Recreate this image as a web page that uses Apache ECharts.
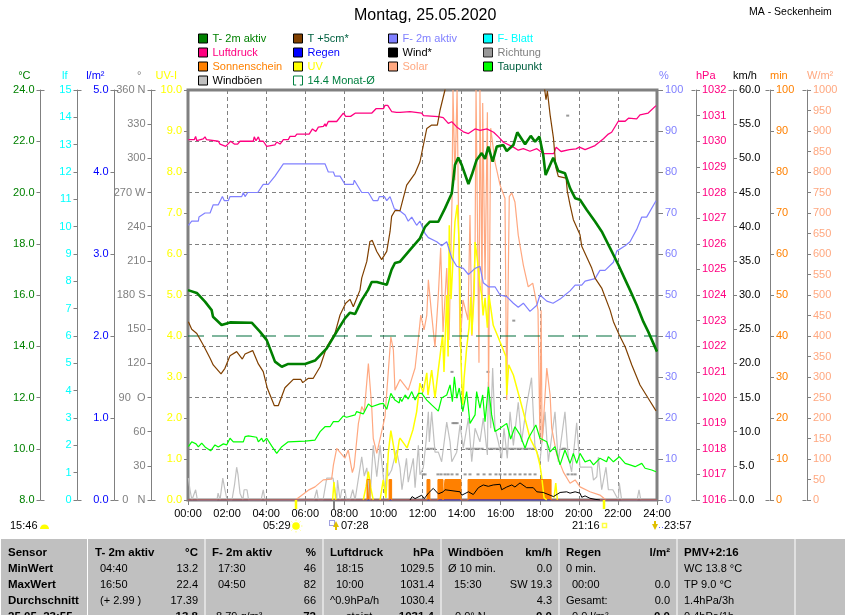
<!DOCTYPE html>
<html><head><meta charset="utf-8">
<style>html,body{margin:0;padding:0;background:#fff;overflow:hidden}#c{width:845px;height:615px}</style>
<script src="https://cdn.jsdelivr.net/npm/echarts@6/dist/echarts.min.js"></script>
</head><body><div id="c"></div>
<script>
const dirTicks = {360:'360 N',330:'330',300:'300',270:'270 W',240:'240',210:'210',180:'180 S',150:'150',120:'120',90:'90  O',60:'60',30:'30',0:'0   N'};

const t2mHours = [0,0.45,0.87,1.21,1.28,1.72,2.15,3.26,3.68,4.03,4.45,4.80,5.13,5.99,6.50,7.10,7.61,8.03,8.29,8.55,8.89,9.21,9.40,9.66,10.17,10.42,10.59,10.85,11.36,11.87,12.13,12.38,12.81,13.15,13.50,13.66,13.83,14.01,14.35,14.52,14.77,15.03,15.20,15.37,15.59,15.80,16.14,16.31,16.65,16.85,17.25,17.54,17.76,17.98,18.18,18.30,18.69,18.95,19.29,19.55,19.81,20.06,20.40,20.83,21.17,21.60,22.02,22.37,22.62,22.96,23.30,23.55,24];
const t2mValues = [16.19,16.08,15.74,15.41,15.15,14.83,14.93,14.92,14.57,14.24,13.40,13.20,13.31,13.31,13.44,13.92,14.57,15.09,15.31,15.26,15.80,16.19,16.51,16.51,16.40,16.99,17.25,17.30,17.76,18.21,18.66,18.86,18.86,19.38,19.97,21.07,21.36,21.07,20.33,20.68,21.27,21.54,21.31,21.79,21.20,21.79,21.85,21.62,21.85,22.35,21.88,22.21,21.98,22.18,21.46,20.68,21.36,20.84,20.75,20.17,19.78,19.72,19.33,18.87,18.48,17.83,17.18,16.60,16.19,15.61,14.96,14.57,13.79];

const t5Hours = [0.02,0.19,0.45,0.78,1.13,1.29,1.69,1.89,2.15,2.49,2.78,2.92,3.31,3.60,3.85,4.06,4.42,4.62,4.96,5.39,5.77,5.87,6.16,6.41,6.76,7.10,7.52,7.78,8.07,8.29,8.46,8.80,8.89,9.15,9.31,9.43,9.66,9.91,10.17,10.34,10.42,10.59,10.85,11.19,11.62,11.87,12.22,12.47,12.76,12.90,13.15,13.25,14,16,18,18.22,18.32,18.39,18.53,18.70,18.83,18.95,19.35,19.41,19.55,19.72,20.06,20.15,20.66,20.83,21.17,21.60,21.77,22.07,22.37,22.71,23.13,23.55,23.95];
const t5Values = [14.96,14.66,14.50,14.05,13.53,13.27,12.92,13.14,13.63,13.79,13.50,13.70,13.83,13.31,13.01,12.36,11.68,11.68,12.38,12.71,12.71,12.58,12.75,12.75,13.20,13.98,14.50,15.22,15.68,15.83,15.54,16.19,16.66,17.31,18.09,18.13,17.70,17.38,17.70,18.48,19.07,19.29,19.29,20.29,20.75,21.20,22.50,22.63,22.63,23.22,24.0,24.4,26,27,26,24.2,23.62,23.96,23.03,22.13,20.96,20.63,20.56,20.05,19.52,18.94,18.35,17.90,17.05,16.66,16.27,15.41,14.96,14.44,13.98,13.27,12.49,11.97,11.48];

const humHours = [0.02,0.19,0.53,0.56,0.87,1.13,1.29,1.55,1.76,1.86,2.06,2.15,2.75,2.83,2.92,3.06,3.57,3.85,4.11,4.45,4.88,7.01,7.18,7.44,7.52,7.78,8.03,8.46,8.51,8.89,9.23,9.48,9.71,9.79,10.05,10.17,10.34,10.56,10.85,11.11,11.27,11.45,11.70,11.87,12.13,12.30,12.73,12.98,13.24,13.50,13.75,14.09,14.35,14.69,14.94,15.11,15.37,15.71,15.97,16.31,16.65,16.90,17.16,17.50,17.85,18.01,18.36,18.68,19.04,19.29,19.55,19.81,20.15,20.32,20.83,21.08,21.34,21.77,21.94,22.37,22.62,22.96,23.22,23.47,23.95];
const humValues = [67,68,68,69,70,70,72,72,74,73,73,74,74,75,74,75,75,77,77,79,82,82,80,80,79,79,77,77,78,75,75,73,73,74,74,73,74,71,70.5,69.5,68,69,67,68,65,64,63,62,63,59,57,56.5,55,56.5,57,53,52,52,50,49.6,48,47,48,46,47.5,50,48.5,48,49,50,51,52.4,52.4,53.4,54,56,56,58,60.7,62,63,66,69,69,73];

const pressHours = [0.02,0.32,0.39,0.45,0.78,0.87,0.95,1.55,1.64,1.93,2.18,2.37,2.54,2.66,3.34,3.39,3.48,3.60,3.68,3.85,4.03,4.11,4.45,4.54,4.71,4.88,5.13,5.22,5.48,5.57,6.20,6.37,6.54,6.67,6.93,7.01,7.06,7.18,7.61,7.70,7.95,8.07,8.32,8.57,8.99,9.07,9.41,9.62,10.0,10.08,10.22,10.42,10.67,10.85,11.36,11.96,12.05,12.81,13.06,13.32,13.50,13.75,14.09,14.35,14.69,14.95,15.29,15.64,15.90,16.14,16.65,16.90,17.16,17.50,17.85,18.18,18.72,18.84,19.09,19.52,19.86,20.03,20.32,20.83,21.26,21.51,21.68,22.02,22.37,22.54,22.96,23.13,23.55,23.95];
const pressValues = [1030.06,1030.06,1030.19,1030.02,1030.09,1030.17,1030.06,1030.0,1029.89,1029.80,1030.0,1029.89,1029.89,1030.0,1030.0,1030.17,1030.02,1030.17,1030.0,1030.0,1029.80,1029.86,1029.86,1029.97,1029.89,1030.06,1030.06,1030.19,1030.19,1030.28,1030.28,1030.48,1030.38,1030.55,1030.58,1030.68,1030.58,1030.77,1030.77,1030.73,1031.10,1030.97,1030.97,1031.10,1031.10,1031.16,1031.10,1031.27,1031.27,1031.40,1031.40,1031.16,1031.13,1031.13,1031.16,1031.10,1031.0,1030.96,1030.92,1030.70,1030.76,1030.56,1030.37,1030.30,1030.48,1030.42,1030.48,1030.35,1030.16,1029.96,1029.77,1029.65,1029.71,1029.61,1029.71,1029.52,1029.52,1029.77,1029.6,1029.67,1029.7,1029.77,1029.67,1029.83,1030.1,1030.28,1030.35,1030.78,1030.78,1030.9,1030.87,1031.03,1031.1,1031.39];

const dewHours = [0.02,0.19,0.41,0.53,0.70,0.87,1.16,1.38,1.55,1.81,1.98,2.15,2.32,2.83,2.92,3.09,3.51,3.60,3.77,3.85,4.03,4.28,4.54,4.80,5.13,5.99,6.50,6.76,7.01,7.27,7.44,7.70,7.95,8.12,8.55,8.63,8.97,9.23,9.40,9.82,9.99,10.17,10.38,10.59,10.81,10.85,10.94,11.11,11.27,11.45,11.62,11.79,11.96,12.22,12.47,12.81,12.98,13.24,13.41,13.53,13.63,13.75,13.88,14.06,14.26,14.43,14.69,14.77,14.94,15.08,15.20,15.37,15.54,15.71,15.97,16.31,16.51,16.73,16.99,17.25,17.42,17.80,18.01,18.36,18.53,18.78,19.04,19.29,19.55,19.72,19.89,20.06,20.32,20.57,20.75,21.08,21.42,21.51,21.77,22.07,22.37,22.62,22.88,23.22,23.39,23.73,23.95];
const dewValues = [10.08,10.27,10.19,10.07,10.22,10.07,9.92,10.15,10.07,10.19,10.15,10.41,10.27,10.27,10.47,10.50,10.45,10.27,10.41,10.27,10.41,10.11,9.82,10.08,10.27,10.30,10.34,10.67,10.86,10.86,11.06,11.06,11.28,11.23,11.32,11.45,11.36,11.75,11.64,11.75,11.77,11.54,12.16,11.90,11.79,11.98,11.84,12.10,11.94,12.23,11.90,12.16,12.16,11.90,11.71,11.47,11.98,12.10,12.49,11.84,12.81,11.97,12.37,11.45,12.23,10.99,11.32,12.23,11.59,12.10,11.06,12.42,11.32,10.67,10.80,10.99,10.38,10.86,10.54,10.02,10.41,10.93,10.41,10.27,9.88,10.08,9.37,9.95,9.43,9.82,9.43,9.82,9.49,9.56,9.37,9.63,9.49,9.69,9.49,9.69,9.43,9.37,9.30,9.43,9.24,9.17,9.10];

const solarHours = [5.50,5.56,6.16,6.50,6.92,7.35,7.44,7.61,8.03,8.20,8.41,8.50,8.72,8.89,9.02,9.23,9.40,9.48,9.66,9.91,10.08,10.38,10.51,10.59,10.85,11.27,11.62,11.79,11.91,12.08,12.22,12.30,12.47,12.64,12.81,12.93,13.05,13.24,13.36,13.51,13.56,13.66,13.77,13.92,14.07,14.33,14.43,14.53,14.69,14.74,14.89,14.94,15.05,15.08,15.20,15.32,15.38,15.49,15.71,15.97,16.22,16.31,16.44,16.57,16.73,16.90,17.16,17.41,17.64,17.91,18.01,18.07,18.12,18.36,18.53,18.61,18.87,19.21,19.55,19.81,20.06,20.57,21.08,21.34,21.40];
const solarValues = [0,2,24,32,49,51,85,126,102,122,67,81,187,228,215,333,228,150,114,167,203,398,366,268,294,268,322,395,451,415,451,537,451,373,500,615,410,566,390,732,1000,780,1000,373,488,439,695,400,610,1000,335,1000,488,968,537,946,256,907,824,768,736,244,740,749,727,646,573,520,529,464,146,463,141,322,256,176,110,68,41,49,32,20,12,2,0];

const uvHours = [7.40,7.47,7.56,7.57,8.96,8.97,9.11,9.23,9.35,9.48,9.49,9.82,9.83,9.99,10.13,10.25,10.38,10.51,10.64,10.81,10.85,11.21,11.51,11.70,11.87,12.03,12.22,12.28,12.47,12.64,12.79,13.03,13.10,13.24,13.31,13.37,13.46,13.66,13.78,13.88,13.92,13.97,14.06,14.13,14.26,14.38,14.47,14.52,14.64,14.69,14.80,14.94,15.03,15.10,15.20,15.32,15.40,15.62,16.05,16.27,16.31,16.41,16.65,17.16,17.50,17.85,18.01,18.10,18.22,18.36,18.37,18.72,18.73,18.82,18.90];
const uvValues = [0,0.44,0,null,null,0,0.32,0.69,0.3,0,null,null,0,0.49,0.05,1.15,1.69,1.34,0.90,1.46,1.51,1.27,1.71,2.15,2.85,2.63,3.10,2.56,3.17,2.49,3.10,4.03,3.12,5.0,3.5,6.70,4.9,6.78,7.20,6.22,5.0,3.37,2.32,2.98,3.71,4.20,4.95,4.03,5.0,6.29,5.90,5.24,5.0,4.5,4.93,4.2,5.0,4.26,3.76,3.5,2.56,3.30,3.05,2.15,1.51,1.17,0.85,0.56,0.05,0,null,null,0.05,0.41,0];

const gustHours = [0.02,0.10,0.2,0.39,0.48,1.48,1.54,1.64,1.78,1.89,2.0,2.25,2.38,2.49,2.56,2.66,2.81,2.87,3.02,3.10,3.74,3.85,3.94,6.45,6.59,6.67,6.91,7.10,7.42,7.61,7.65,7.78,7.87,8.03,8.11,8.29,8.43,8.55,8.89,8.97,9.02,9.15,9.31,9.48,9.57,9.66,9.83,10.08,10.17,10.25,10.42,10.67,10.85,10.95,11.18,11.27,11.53,11.62,11.79,11.87,12.04,12.18,12.30,12.35,12.47,12.64,12.81,12.98,13.24,13.41,13.50,13.75,13.92,14.09,14.35,14.52,14.69,14.94,15.11,15.32,15.37,15.49,15.59,15.71,15.88,16.05,16.17,16.34,16.48,16.65,16.90,17.07,17.33,17.58,17.75,18.01,18.27,18.44,18.78,18.95,19.29,19.46,19.63,19.89,20.06,20.32,20.66,20.75,20.92,21.0,21.17,21.39,21.51,21.74,22.02,22.07,22.19,22.98,23.08,23.17,24];
const gustValues = [3.2,1.5,0,1.5,0,0,1,0,3.2,1.5,0,0,2.2,4.8,3.7,1,0,1.5,1.5,0,0,1.5,0,0,1.5,0,0,3.2,3.2,0,2.9,0,1.5,1.5,0,0,1.5,0,6.3,6.3,3.5,4.7,0,8,8,3.4,8,1,5.4,3.5,4.4,7.3,4.7,1.5,6.1,2.6,6.1,1.8,8,3.7,4.7,8.5,12.9,8.5,12.9,7,7,5.6,11.4,8.5,5.6,7,11,7.6,12,5.6,10.5,8.5,12,6.6,17.3,10.5,19.3,10.5,8.5,6.1,10.5,6.1,12.9,8,14.3,8.5,13.9,17.9,8,5.6,12.9,5.6,12.9,5.6,12.9,6.3,4.1,11.3,4.8,4.8,4.8,2.9,3.4,6.3,1.5,4.8,1.5,1.5,0,2.5,0,0,1.5,0,0];

const windHours = [11.36,11.47,11.62,11.96,12.09,12.30,12.55,12.81,13.06,13.15,13.92,14.01,14.35,14.60,14.86,15.11,15.37,15.62,15.97,16.05,16.31,16.57,16.73,16.99,17.33,17.67,17.85,18.18,18.53,18.70,19.04,19.38,19.55,19.81,20.06,20.15,20.32,20.57,20.83,21.08];
const windValues = [0,0.5,0.2,0.7,0.2,1,1.7,0.9,1.2,1.5,1.2,0.7,1.2,0.8,1.8,2.2,2.0,2.2,2.3,1.5,1.9,2.2,1.9,2.5,1.8,1.8,1.2,1.1,0.7,0.5,1.1,1.2,1.0,1.2,1.0,0.4,0.6,0.25,0.1,0];

const dirHours = [12.03,12.13,12.79,12.95,13.15,13.31,13.51,13.77,14.18,14.43,14.84,15.15,15.46,15.76,15.97,16.22,16.48,16.73,16.99,17.25,17.50,17.76,19.45,19.65,19.81,
  12.28,12.44,12.59,14.28,14.43,14.59,14.74,14.89,15.05,15.35,15.51,15.66,15.81,15.97,16.12,16.27,16.43,16.58,16.73,16.89,17.04,17.2,17.35,17.5,17.66,19.19,19.29,
  13.56,13.66,13.77,13.51,15.35,16.67,19.43];
const dirValues = [22.5,22.5,22.5,22.5,22.5,22.5,22.5,22.5,22.5,22.5,22.5,22.5,22.5,22.5,22.5,22.5,22.5,22.5,22.5,22.5,22.5,22.5,22.5,22.5,22.5,
  45,45,45,45,45,45,45,45,45,45,45,45,45,45,45,45,45,45,45,45,45,45,45,45,45,45,45,
  67.5,67.5,67.5,112.5,112.5,157.5,337.5];

const sunHours = [0,9.16,9.16,9.31,9.31,10.29,10.29,10.42,10.42,12.23,12.23,12.38,12.38,12.79,12.79,13.05,13.05,13.15,13.15,13.97,13.97,14.33,14.33,18.58,18.58,24];
const sunMinutes = [0,0,5,5,0,0,5,5,0,0,5,5,0,0,5,5,0,0,5,5,0,0,5,5,0,0];

const rainHours = [0,24];
const rainValues = [0,0];
const monthHours = [0,24];
const monthValues = [14.4,14.4];

const tableRows = [
 [8,0,'Sensor',1],[8,1,'MinWert',1],[8,2,'MaxWert',1],[8,3,'Durchschnitt',1],[8,4,'25.05. 23:55',1],
 [95,0,'T- 2m aktiv',1],[198,0,'°C',1,'right'],[100,1,'04:40'],[198,1,'13.2',0,'right'],[100,2,'16:50'],[198,2,'22.4',0,'right'],[100,3,'(+ 2.99 )'],[198,3,'17.39',0,'right'],[198,4,'13.8',1,'right'],
 [212,0,'F- 2m aktiv',1],[316,0,'%',1,'right'],[218,1,'17:30'],[316,1,'46',0,'right'],[218,2,'04:50'],[316,2,'82',0,'right'],[316,3,'66',0,'right'],[216,4,'8.79 g/m³'],[316,4,'72',1,'right'],
 [330,0,'Luftdruck',1],[434,0,'hPa',1,'right'],[336,1,'18:15'],[434,1,'1029.5',0,'right'],[336,2,'10:00'],[434,2,'1031.4',0,'right'],[330,3,'^0.9hPa/h'],[434,3,'1030.4',0,'right'],[346,4,'steigt'],[434,4,'1031.4',1,'right'],
 [448,0,'Windböen',1],[552,0,'km/h',1,'right'],[448,1,'Ø 10 min.'],[552,1,'0.0',0,'right'],[454,2,'15:30'],[552,2,'SW 19.3',0,'right'],[552,3,'4.3',0,'right'],[455,4,'0.0° N'],[552,4,'0.0',1,'right'],
 [566,0,'Regen',1],[670,0,'l/m²',1,'right'],[566,1,'0 min.'],[572,2,'00:00'],[670,2,'0.0',0,'right'],[566,3,'Gesamt:'],[670,3,'0.0',0,'right'],[572,4,'0.0 l/m²'],[670,4,'0.0',1,'right'],
 [684,0,'PMV+2:16',1],[684,1,'WC 13.8 °C'],[684,2,'TP 9.0 °C'],[684,3,'1.4hPa/3h'],[684,4,'0.4hPa/1h']
];
const FONT='"Liberation Sans",Arial,sans-serif';
const zip=(a,b)=>a.map((v,i)=>[v,b[i]]);
const GRAY='#808080';

function yAx(opt){
  const left=opt.position==='left';
  return {
    type:'value',position:opt.position,offset:opt.offset,min:opt.min,max:opt.max,interval:opt.interval,
    name:opt.name,nameLocation:'end',nameGap:9,
    nameTextStyle:{color:opt.color,fontFamily:FONT,fontSize:11,align:left?'right':'left',padding:left?[0,opt.pad,0,0]:[0,0,0,opt.pad]},
    axisLine:{show:true,onZero:false,lineStyle:{color:GRAY,width:1}},
    axisTick:{show:true,length:opt.tick||4,lineStyle:{color:GRAY,width:1}},
    axisLabel:{show:true,color:opt.color,fontFamily:FONT,fontSize:11,margin:opt.margin||6,showMinLabel:true,showMaxLabel:true,hideOverlap:false,formatter:opt.fmt},
    splitLine:opt.split?{show:true,lineStyle:{color:GRAY,type:[4,3],width:1}}:{show:false}
  };
}
const yAxes=[
 yAx({position:'left',offset:147.5,min:8,max:24,interval:2,name:'°C',pad:10,color:'#008000',fmt:v=>v.toFixed(1),split:true}),
 yAx({position:'left',offset:110.5,min:0,max:15,interval:1,name:'lf',pad:10,color:'#00ffff',fmt:v=>String(v)}),
 yAx({position:'left',offset:73.5,min:0,max:5,interval:1,name:'l/m²',pad:10,color:'#0000ff',fmt:v=>v.toFixed(1)}),
 yAx({position:'left',offset:36.5,min:0,max:360,interval:30,name:'°',pad:10,color:GRAY,fmt:v=>dirTicks[v]}),
 yAx({position:'left',offset:0,min:0,max:10,interval:1,name:'UV-I',pad:11,color:'#ffff00',fmt:v=>v.toFixed(1)}),
 yAx({position:'right',offset:0,min:0,max:100,interval:10,name:'%',pad:2,color:'#8080ff',tick:6,margin:8,fmt:v=>String(v)}),
 yAx({position:'right',offset:39,min:1016,max:1032,interval:1,name:'hPa',pad:0,color:'#ff0080',fmt:v=>String(v)}),
 yAx({position:'right',offset:76,min:0,max:60,interval:5,name:'km/h',pad:0,color:'#000000',fmt:v=>v.toFixed(1)}),
 yAx({position:'right',offset:113,min:0,max:100,interval:10,name:'min',pad:0,color:'#ff8000',fmt:v=>String(v)}),
 yAx({position:'right',offset:150,min:0,max:1000,interval:50,name:'W/m²',pad:0,color:'#ffa880',fmt:v=>String(v)})
];
function ln(name,ax,color,width,x,y,extra){
  return Object.assign({name,type:'line',yAxisIndex:ax,data:zip(x,y),showSymbol:false,symbol:'none',silent:true,clip:true,
    lineStyle:{color,width},itemStyle:{color}},extra||{});
}
const series=[
 ln('Windböen',7,'#c0c0c0',1.2,gustHours,gustValues),
 ln('Solar',9,'#ffa880',1.2,solarHours,solarValues),
 ln('Regen',2,'#0000ff',1,rainHours,rainValues),
 ln('F- Blatt',1,'#00ffff',1,[],[]),
 ln('UV',4,'#ffff00',1.5,uvHours,uvValues),
 ln('Sonnenschein',8,'#ff8000',1,sunHours,sunMinutes,{areaStyle:{color:'#ff8000',opacity:1}}),
 {name:'Richtung',type:'scatter',yAxisIndex:3,data:zip(dirHours,dirValues),symbol:'rect',symbolSize:[3,2],silent:true,itemStyle:{color:GRAY}},
 ln('Taupunkt',0,'#00ff00',1.2,dewHours,dewValues),
 ln('Wind*',7,'#000000',1,windHours,windValues),
 ln('F- 2m aktiv',5,'#8080ff',1.2,humHours,humValues),
 ln('Luftdruck',6,'#ff0080',1.3,pressHours,pressValues),
 ln('14.4 Monat-Ø',0,'#006f3c',1,monthHours,monthValues,{lineStyle:{color:'#006f3c',width:1.2,type:[16,8]}}),
 ln('T +5cm*',0,'#804000',1.2,t5Hours,t5Values),
 ln('T- 2m aktiv',0,'#008000',2.6,t2mHours,t2mValues)
];
const ROWGAP=3;
function legendCol(left,items){
  return {show:true,orient:'vertical',left,top:33,padding:0,itemWidth:9,itemHeight:9,itemGap:ROWGAP,selectedMode:false,
    textStyle:{fontFamily:FONT,fontSize:11},
    data:items.map(([name,fill,text,icon])=>({name,icon:icon||'rect',
      itemStyle:icon?{color:'rgba(0,0,0,0)',borderColor:text,borderWidth:1}:{color:fill,borderColor:'#000',borderWidth:1},
      textStyle:{color:text,fontFamily:FONT,fontSize:11}}))};
}
const legends=[
 legendCol(198,[['T- 2m aktiv','#008000','#008000'],['Luftdruck','#ff0080','#ff0080'],['Sonnenschein','#ff8000','#ff8000'],['Windböen','#c0c0c0','#000000']]),
 legendCol(293,[['T +5cm*','#804000','#006040'],['Regen','#0000ff','#0000ff'],['UV','#ffff00','#ffff00'],['14.4 Monat-Ø','','#008040','path://M3,10 H0 V0 H10 V10 H7']]),
 legendCol(388,[['F- 2m aktiv','#8080ff','#8080ff'],['Wind*','#000000','#000000'],['Solar','#ffa880','#ffa880']]),
 legendCol(483,[['F- Blatt','#00ffff','#00ffff'],['Richtung',GRAY,GRAY],['Taupunkt','#00ff00','#006040']])
];

const g=[];
g.push({type:'rect',shape:{x:1,y:539,width:844,height:76},style:{fill:'#c0c0c0'},silent:true});
[87.5,205,323,441,559,677,795].forEach(x=>g.push({type:'rect',shape:{x:x-0.5,y:539,width:1,height:76},style:{fill:'#fff'},silent:true}));
tableRows.forEach(([x,r,t,b,al])=>g.push({type:'text',x,y:552.5+16*r,silent:true,style:{text:t,fill:'#000',align:al||'left',verticalAlign:'middle',font:(b?'bold 11.5px ':'11px ')+FONT}}));
g.push({type:'text',x:749,y:12,silent:true,style:{text:'MA - Seckenheim',fill:'#000',align:'left',verticalAlign:'middle',font:'10.5px '+FONT}});
[40.5,77.5,114.5,151.5].forEach(x=>{[90.5,500.5].forEach(y=>g.push({type:'line',shape:{x1:x,y1:y,x2:x+4,y2:y},style:{stroke:GRAY,lineWidth:1},silent:true}));});
[695.5,732.5,769.5,806.5].forEach(x=>{[90.5,500.5].forEach(y=>g.push({type:'line',shape:{x1:x-4,y1:y,x2:x,y2:y},style:{stroke:GRAY,lineWidth:1},silent:true}));});
[[296,'#ffff00',2.5],[604,'#ffff00',2.5],[334,GRAY,2]].forEach(([x,c,w])=>g.push({type:'rect',z:20,shape:{x:x-w/2,y:500,width:w,height:9},style:{fill:c},silent:true}));
const evY=525.5;
[[10,'15:46'],[263,'05:29'],[341,'07:28'],[572,'21:16'],[664,'23:57']].forEach(([x,t])=>g.push({type:'text',x,y:evY,silent:true,style:{text:t,fill:'#000',align:'left',verticalAlign:'middle',font:'11px '+FONT}}));
g.push({type:'sector',shape:{cx:44.5,cy:529,r:4.5,startAngle:Math.PI,endAngle:0,clockwise:true},style:{fill:'#ffff00'},silent:true});
g.push({type:'circle',shape:{cx:296,cy:526,r:3.8},style:{fill:'#ffff00'},silent:true});
[0,1,2,3,4,5,6,7].forEach(i=>{const a=i*Math.PI/4;g.push({type:'line',shape:{x1:296+5*Math.cos(a),y1:526+5*Math.sin(a),x2:296+6.5*Math.cos(a),y2:526+6.5*Math.sin(a)},style:{stroke:'#ffff80',lineWidth:1},silent:true});});
g.push({type:'rect',shape:{x:329.5,y:520.5,width:5,height:5},style:{fill:'none',stroke:'#4040c0',lineWidth:1,lineDash:[1,1]},silent:true});
g.push({type:'polygon',shape:{points:[[336,521],[333,527],[335,527],[335,530],[337,530],[337,527],[339,527]]},style:{fill:'#e0c000'},silent:true});
g.push({type:'rect',shape:{x:602.5,y:523.5,width:4,height:4},style:{fill:'none',stroke:'#ffff40',lineWidth:1.5},silent:true});
g.push({type:'polygon',shape:{points:[[655,530],[652,524],[654,524],[654,521],[656,521],[656,524],[658,524]]},style:{fill:'#e0c000'},silent:true});
g.push({type:'rect',shape:{x:659,y:527,width:1,height:1},style:{fill:'#6060ff'},silent:true});
g.push({type:'rect',shape:{x:662,y:527,width:1,height:1},style:{fill:'#6060ff'},silent:true});

const chart=echarts.init(document.getElementById('c'),null,{renderer:'canvas',width:845,height:615});
chart.setOption({
  animation:false,backgroundColor:'#fff',
  title:{text:'Montag, 25.05.2020',left:354,top:8,padding:0,textStyle:{fontFamily:FONT,fontSize:16,fontWeight:'normal',color:'#000'}},
  legend:legends,
  grid:{left:188,right:188,top:90,bottom:115,containLabel:false,show:true,borderColor:GRAY,borderWidth:3,backgroundColor:'#fff'},
  xAxis:{type:'value',min:0,max:24,interval:2,
    axisLine:{show:true,onZero:false,lineStyle:{color:GRAY,width:2}},
    axisTick:{show:true,length:5,lineStyle:{color:GRAY,width:1}},
    axisLabel:{color:'#000',fontFamily:FONT,fontSize:11,margin:8,showMinLabel:true,showMaxLabel:true,hideOverlap:false,formatter:v=>String(v).padStart(2,'0')+':00'},
    splitLine:{show:true,lineStyle:{color:GRAY,type:[4,3],width:1}}},
  yAxis:yAxes,
  series,
  graphic:{elements:g}
});
</script></body></html>
